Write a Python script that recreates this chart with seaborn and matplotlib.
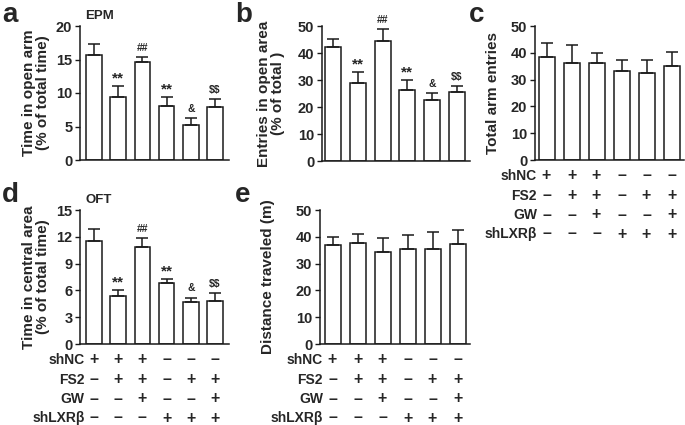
import matplotlib
matplotlib.use("Agg")
import matplotlib.pyplot as plt
import seaborn as sns
import pandas as pd

# ---------------- data ----------------
groups = ["G1", "G2", "G3", "G4", "G5", "G6"]

epm_time_mean = [15.7, 9.4, 14.6, 8.0, 5.2, 7.9]
epm_time_sem = [1.6, 1.6, 0.7, 1.4, 1.0, 1.2]

epm_entries_mean = [42.1, 29.0, 44.3, 26.3, 22.5, 25.5]
epm_entries_sem = [3.2, 4.0, 4.5, 3.7, 2.8, 2.4]

total_entries_mean = [38.3, 36.1, 36.1, 33.2, 32.3, 35.1]
total_entries_sem = [5.2, 6.7, 3.9, 4.1, 5.0, 5.3]

oft_time_mean = [11.5, 5.4, 10.9, 6.8, 4.65, 4.8]
oft_time_sem = [1.4, 0.65, 1.0, 0.5, 0.55, 0.9]

distance_mean = [37.0, 37.6, 34.2, 35.4, 35.4, 37.2]
distance_sem = [2.8, 3.6, 5.3, 5.3, 6.5, 5.5]

sig_marks = ["", "**", "##", "**", "&", "$$"]

row_labels = ["shNC", "FS2", "GW", "shLXR\u03b2"]
row_shNC = ["+", "+", "+", "\u2013", "\u2013", "\u2013"]
row_FS2 = ["\u2013", "+", "+", "\u2013", "+", "+"]
row_GW = ["\u2013", "\u2013", "+", "\u2013", "\u2013", "+"]
row_shLXR = ["\u2013", "\u2013", "\u2013", "+", "+", "+"]

# ---------------- style ----------------
sns.set_style("ticks")
plt.rcParams["font.family"] = ["Liberation Sans", "DejaVu Sans"]
plt.rcParams["font.weight"] = "bold"
plt.rcParams["axes.labelweight"] = "bold"
plt.rcParams["text.parse_math"] = False

W, H = 685, 425
fig = plt.figure(figsize=(W / 100, H / 100), dpi=100)


def px_axes(l, r, top, bottom):
    return fig.add_axes([l / W, 1 - bottom / H, (r - l) / W, (bottom - top) / H])


EC = "#1a1a1a"


def draw_panel(ax, means, sems, ymax, step, xlim, ylabel, label_x, marks=None):
    df = pd.DataFrame({"group": groups, "value": means})
    sns.barplot(data=df, x="group", y="value", order=groups, color="white",
                edgecolor=EC, linewidth=1.1, width=0.64, errorbar=None,
                saturation=1, ax=ax)
    for p in ax.patches:
        p.set_facecolor("white")
    ax.errorbar(range(len(groups)), means, yerr=[[0] * len(sems), sems],
                fmt="none", ecolor=EC, elinewidth=1.1, capsize=4, capthick=1.1)
    ax.set_xlim(*xlim)
    ax.set_ylim(0, ymax)
    ax.set_yticks(range(0, ymax + 1, step))
    ax.tick_params(axis="y", direction="out", length=3.5, width=1.0,
                   labelsize=10.5, pad=2, color=EC)
    ax.tick_params(axis="x", length=0, labelbottom=False)
    for lab in ax.get_yticklabels():
        lab.set_fontweight("bold")
    ax.set_xlabel("")
    ax.set_ylabel(ylabel, fontsize=11, fontweight="bold", linespacing=1.0)
    ax.yaxis.set_label_coords(label_x, 0.5)
    sns.despine(ax=ax)
    for s in ("left", "bottom"):
        ax.spines[s].set_linewidth(1.1)
        ax.spines[s].set_color(EC)
    if marks:
        for i, m in enumerate(marks):
            if not m:
                continue
            fs = 11 if m == "**" else 7.5
            off = 0.5 if m == "**" else 3
            ax.annotate(m, xy=(i, means[i] + sems[i]), xytext=(0, off),
                        textcoords="offset points", ha="center", va="bottom",
                        fontsize=fs, fontweight="bold")


def draw_table(ax, label_dx=-0.38):
    rows = [row_shNC, row_FS2, row_GW, row_shLXR]
    offsets = [15.5, 35.5, 55, 74]
    trans = ax.get_xaxis_transform()
    for lab, row, off in zip(row_labels, rows, offsets):
        ax.annotate(lab, xy=(label_dx, 0), xycoords=trans,
                    xytext=(0, -off * 0.72), textcoords="offset points",
                    ha="right", va="center", fontsize=10, fontweight="bold",
                    annotation_clip=False)
        for i, sym in enumerate(row):
            ax.annotate(sym, xy=(i, 0), xycoords=trans,
                        xytext=(0, -off * 0.72), textcoords="offset points",
                        ha="center", va="center", fontsize=11.5,
                        fontweight="bold", annotation_clip=False)


ax_a = px_axes(80, 229, 26, 160)
draw_panel(ax_a, epm_time_mean, epm_time_sem, 20, 5, (-0.58, 5.58),
           "Time in open arm\n(% of total time)", -0.2, sig_marks)

ax_b = px_axes(322, 470, 26, 161)
draw_panel(ax_b, epm_entries_mean, epm_entries_sem, 50, 10, (-0.44, 5.52),
           "Entries in open area\n(% of total )", -0.25, sig_marks)

ax_c = px_axes(535, 684, 26, 160)
draw_panel(ax_c, total_entries_mean, total_entries_sem, 50, 10, (-0.46, 5.5),
           "Total arm entries", -0.235)
draw_table(ax_c)

ax_d = px_axes(80, 229, 210, 344)
draw_panel(ax_d, oft_time_mean, oft_time_sem, 15, 3, (-0.58, 5.58),
           "Time in central area\n(% of total time)", -0.2, sig_marks)
draw_table(ax_d)

ax_e = px_axes(320, 470, 210, 344)
draw_panel(ax_e, distance_mean, distance_sem, 50, 10, (-0.5, 5.5),
           "Distance traveled (m)", -0.3)
draw_table(ax_e)

# panel letters and titles (pixel positions)
def ftext(x, y, s, **kw):
    fig.text(x / W, 1 - y / H, s, **kw)

ftext(2, 22, "a", fontsize=20, fontweight="bold", va="baseline")
ftext(235, 22, "b", fontsize=20, fontweight="bold", va="baseline")
ftext(469, 22, "c", fontsize=20, fontweight="bold", va="baseline")
ftext(2, 202, "d", fontsize=20, fontweight="bold", va="baseline")
ftext(235, 202, "e", fontsize=20, fontweight="bold", va="baseline")
ftext(85, 19, "EPM", fontsize=9.5, fontweight="bold", va="baseline")
ftext(85, 203, "OFT", fontsize=9.5, fontweight="bold", va="baseline")

fig.savefig("out.png", dpi=100)
